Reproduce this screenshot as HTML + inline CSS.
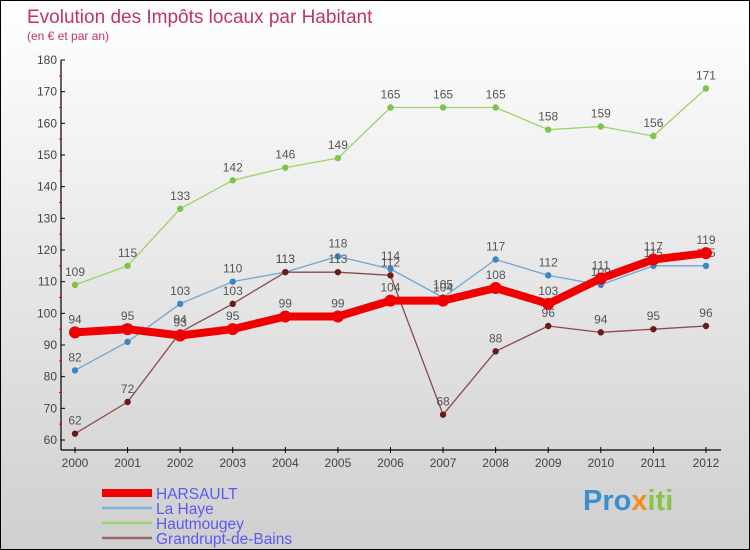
<!DOCTYPE html>
<html><head><meta charset="utf-8"><style>
body{margin:0}
#c{position:relative;width:748px;height:548px;border:1px solid #000;background:linear-gradient(#fff,#cfcfcf);font-family:"Liberation Sans",sans-serif;overflow:hidden}
</style></head><body>
<div id="c">
<svg id="s" width="748" height="548" style="position:absolute;left:0;top:0">
<text x="26" y="22" font-size="19" fill="#c0336a">Evolution des Impôts locaux par Habitant</text>
<text x="26" y="39" font-size="12" fill="#c0336a">(en € et par an)</text>
</svg>
<div style="position:absolute;left:582px;top:484px;font:bold 29px 'Liberation Sans',sans-serif;color:#3a8fd0">Pro<span style="color:#f28c1c">x</span><span style="color:#8bc34a">iti</span></div>
</div>
<script>
const years=[2000,2001,2002,2003,2004,2005,2006,2007,2008,2009,2010,2011,2012];
const harsault=[94,95,93,95,99,99,104,104,108,103,111,117,119];
const laHaye=[82,91,103,110,113,118,114,105,117,112,109,115,115];
const hautmougey=[109,115,133,142,146,149,165,165,165,158,159,156,171];
const grandrupt=[62,72,94,103,113,113,112,68,88,96,94,95,96];
const yTicks=[60,70,80,90,100,110,120,130,140,150,160,170,180];
const seriesNames=["HARSAULT","La Haye","Hautmougey","Grandrupt-de-Bains"];
const s=document.getElementById('s'),NS="http://www.w3.org/2000/svg";
const X=i=>74+i*52.58, Y=v=>439-(v-60)*380/120;
function el(t,a,p){const e=document.createElementNS(NS,t);for(const k in a)e.setAttribute(k,a[k]);(p||s).appendChild(e);return e;}
let ax=el('line',{x1:60,y1:59,x2:60,y2:449,stroke:'#000','stroke-width':1.2});

let bx=el('line',{x1:60,y1:449,x2:720,y2:449,stroke:'#000','stroke-width':1.2});

yTicks.forEach((v,k)=>{el('line',{x1:60,y1:Y(v),x2:64,y2:Y(v),stroke:'#000'});
 if(k<yTicks.length-1)el('line',{x1:58,y1:Y(v+5),x2:61,y2:Y(v+5),stroke:'red'});
 const t=el('text',{x:56,y:Y(v)+4,'font-size':12,fill:'#444','text-anchor':'end'});t.textContent=v;
 });
years.forEach((y,i)=>{el('line',{x1:X(i),y1:446,x2:X(i),y2:452,stroke:'#000'});
 const t=el('text',{x:X(i),y:466,'font-size':12,fill:'#444','text-anchor':'middle'});t.textContent=y;
 });
function series(d,col,dot,w,r,name){
 const g=el('g',{});
 el('polyline',{points:d.map((v,i)=>X(i)+','+Y(v)).join(' '),fill:'none',stroke:col,'stroke-width':w,'stroke-linejoin':'round'},g);
 d.forEach((v,i)=>{const c=el('circle',{cx:X(i),cy:Y(v),r:r,fill:dot},g);
  
  const t=el('text',{x:X(i),y:Y(v)-9,'font-size':12,fill:'#555','text-anchor':'middle'},g);t.textContent=v;});
}
series(hautmougey,'#9ad46a','#7cc44c',1.3,3.2,'series-hautmougey');
series(laHaye,'#6fa6d2','#3d86c6',1.3,3.2,'series-la-haye');
series(grandrupt,'#8b4a4a','#6b1a1a',1.3,3.2,'series-grandrupt');
series(harsault,'#f00000','#f00000',8,6,'series-harsault');
const cols=['#f00000','#7fb0d8','#9ad46a','#9a6a6a'],ws=[8,2.5,2.5,2.5];
seriesNames.forEach((n,k)=>{const y=492+k*15;
 el('line',{x1:101,y1:y,x2:151,y2:y,stroke:cols[k],'stroke-width':ws[k]});
 const t=el('text',{x:155,y:y+6,'font-size':15.5,fill:'#5a5af0'});t.textContent=n;
 });
</script>
</body></html>
